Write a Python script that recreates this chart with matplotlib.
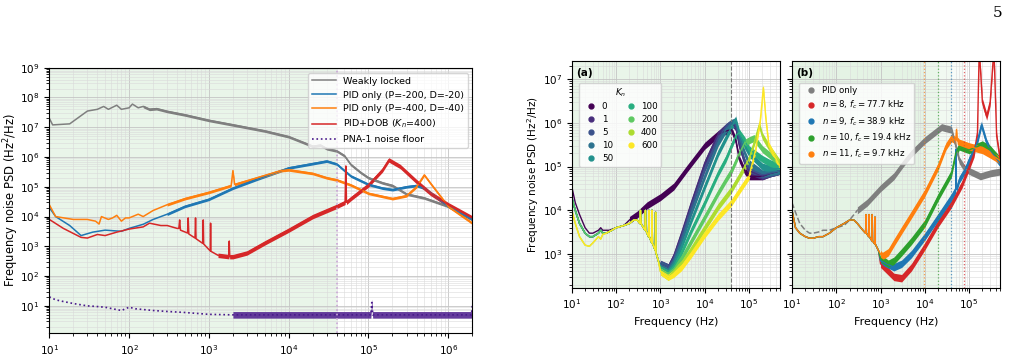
import matplotlib
matplotlib.use("Agg")
import matplotlib.pyplot as plt
import numpy as np
from matplotlib.lines import Line2D

# ---------------- left panel: PID vs PID+DOB ----------------
weak_f = [10, 11, 18, 30, 40, 48, 55, 70, 80, 100, 110, 130, 150, 180, 220, 300, 500,
          1e3, 2e3, 5e3, 1e4, 2e4, 2.5e4, 3e4, 4e4, 5e4, 6e4, 8e4, 1e5, 1.5e5, 2e5, 3e5,
          5e5, 1e6, 2e6]
weak_v = [2e7, 1.2e7, 1.3e7, 3.5e7, 4e7, 5e7, 4e7, 5.5e7, 4e7, 4.5e7, 6e7, 4.5e7, 5e7,
          4e7, 4.2e7, 3.4e7, 2.6e7, 1.7e7, 1.2e7, 7.5e6, 4.8e6, 2.3e6, 2.5e6, 1.9e6, 1.6e6,
          1.1e6, 5.6e5, 3e5, 2e5, 1.35e5, 1.1e5, 5.7e4, 4.2e4, 2.2e4, 8e3]

pid1_f = [10, 12, 18, 25, 35, 50, 80, 100, 150, 200, 300, 500, 1e3, 2e3, 4e3, 1e4, 2e4,
          3e4, 4e4, 6e4, 1e5, 1.5e5, 2e5, 3e5, 4e5, 5e5, 1e6, 2e6]
pid1_v = [2e4, 1e4, 5e3, 2.3e3, 3e3, 3.5e3, 3.2e3, 4e3, 5.5e3, 8e3, 1.2e4, 2.2e4, 3.8e4,
          9e4, 1.8e5, 4.3e5, 6e5, 7.3e5, 5.8e5, 2.3e5, 1.2e5, 9e4, 8e4, 1e5, 1.1e5, 9e4,
          2.2e4, 8e3]

pid2_f = [10, 12, 20, 30, 38, 42, 45, 55, 62, 70, 80, 90, 100, 130, 150, 200, 300, 500,
          1e3, 1.9e3, 2e3, 2.1e3, 4e3, 8e3, 1e4, 2e4, 3e4, 4e4, 6e4, 1e5, 2e5, 3e5, 4e5,
          5e5, 6e5, 1e6, 2e6]
pid2_v = [2.5e4, 1e4, 8e3, 8e3, 7e3, 5.6e3, 1e4, 8e3, 9e3, 1.1e4, 7e3, 9e3, 9e3, 1.2e4,
          1e4, 1.6e4, 2.5e4, 4e4, 6.5e4, 1.1e5, 3.5e5, 1.2e5, 2e5, 3.5e5, 3.7e5, 2.8e5,
          2e5, 1.7e5, 1.15e5, 6e4, 4e4, 5e4, 1e5, 2.5e5, 1.3e5, 2.2e4, 6e3]

dob_f = [10, 15, 25, 30, 40, 50, 70, 100, 150, 180, 250, 300, 400, 420, 430, 440, 540,
         550, 560, 670, 680, 690, 840, 850, 860, 1040, 1050, 1060, 1300, 1780, 1800, 1820,
         2000, 3000, 5000, 1e4, 2e4, 4e4, 5.1e4, 5.2e4, 5.3e4, 6e4, 1e5, 1.5e5, 1.8e5,
         2.5e5, 4e5, 6e5, 1e6, 2e6]
dob_v = [8e3, 4e3, 2e3, 1.9e3, 2.5e3, 2.3e3, 3e3, 3.8e3, 4.5e3, 6e3, 5e3, 5e3, 4e3, 4e3,
         7.7e3, 3.5e3, 2.8e3, 9e3, 2.6e3, 1.9e3, 9e3, 1.8e3, 1.25e3, 7.7e3, 1.2e3, 7e2,
         6e3, 6.8e2, 5e2, 4.5e2, 1.5e3, 4.5e2, 4.5e2, 6e2, 1.3e3, 3.5e3, 1e4, 2.2e4, 3e4,
         5e5, 3e4, 4e4, 1.15e5, 3.7e5, 8e5, 4.8e5, 1.5e5, 6e4, 2.5e4, 9e3]

pna_f = [10, 12, 15, 20, 30, 40, 50, 70, 80, 100, 120, 200, 300, 500, 1e3, 2e3, 5e3, 1e4,
         1e5, 1.07e5, 1.1e5, 1.13e5, 1e6, 1.95e6, 2e6]
pna_v = [20, 16, 14, 12, 10, 9.5, 9, 7.5, 7, 9, 8, 7, 6.5, 6, 5.2, 5, 5, 5, 5, 5, 13, 5,
         5, 5, 10]

# ---------------- panel (a): K_n sweep ----------------
kn_labels = ["0", "1", "5", "10", "50", "100", "200", "400", "600"]

k0_f = [10, 12, 15, 20, 25, 30, 40, 45, 50, 70, 100, 150, 200, 300, 500, 1e3, 2e3, 4e3,
        1e4, 2e4, 3e4, 4e4, 5e4, 6e4, 8e4, 1e5, 2e5, 3e5, 5e5]
k0_v = [3.5e4, 1.5e4, 8e3, 4e3, 3e3, 3e3, 3.5e3, 4e3, 3.5e3, 3.5e3, 4e3, 4.5e3, 6e3, 8e3,
        1.3e4, 2e4, 3.5e4, 9e4, 3e5, 5.5e5, 6.5e5, 7e5, 4e5, 1.5e5, 8e4, 6e4, 6e4, 7e4, 8e4]

# common low-frequency part of the DOB curves (K_n = 1 ... 200)
lowk_f = [10, 12, 15, 20, 25, 30, 40, 45, 50, 60, 80, 100, 150, 200, 250, 300, 345, 355,
          365, 450, 460, 470, 540, 550, 560, 640, 650, 660, 770, 780, 790, 900]
lowk_v = [2e4, 1e4, 5e3, 3e3, 2.5e3, 2.5e3, 3e3, 3.5e3, 3e3, 3e3, 3.5e3, 4e3, 4.5e3, 5e3,
          6e3, 6e3, 5e3, 1e4, 5e3, 3.5e3, 1e4, 3.5e3, 2.5e3, 1e4, 2.5e3, 1.8e3, 1e4, 1.8e3,
          1.2e3, 9e3, 1.1e3, 7e2]
# K_n = 400, 600 sit lower below 50 Hz
lowk_hi_v = [1e4, 5e3, 2.5e3, 1.6e3, 1.5e3, 1.8e3, 2.5e3, 2.2e3, 2.8e3, 3e3, 3.5e3, 4e3,
             4.5e3, 5e3, 6e3, 6e3, 5e3, 1e4, 5e3, 3.5e3, 1e4, 3.5e3, 2.5e3, 1e4, 2.5e3,
             1.8e3, 1e4, 1.8e3, 1.2e3, 9e3, 1.1e3, 7e2]

hk_f = [1e3, 1.5e3, 2e3, 3e3, 5e3, 1e4, 2e4, 3e4, 4e4, 5e4, 6e4, 8e4, 1e5, 2e5, 3e5, 5e5]
k1_v = [6e2, 5e2, 9e2, 3e3, 1.5e4, 1.2e5, 5.5e5, 8e5, 1e6, 8e5, 3e5, 1.2e5, 8e4, 6e4, 7e4, 8e4]
k5_v = [6e2, 5e2, 8e2, 2.5e3, 1.2e4, 9e4, 4.5e5, 8e5, 1e6, 9e5, 4e5, 1.3e5, 9e4, 6.5e4, 7e4, 8e4]
k10_v = [5.5e2, 4.5e2, 7e2, 2e3, 9e3, 6e4, 3.5e5, 7e5, 1e6, 1.1e6, 5e5, 2e5, 1.2e5, 7e4, 7.5e4, 8e4]
k50_v = [5e2, 4e2, 6e2, 1.5e3, 6e3, 3.5e4, 2e5, 4.5e5, 8e5, 1.2e6, 6e5, 3e5, 2e5, 1e5, 9e4, 9e4]
k100_v = [5e2, 4e2, 5e2, 1.1e3, 3.5e3, 1.5e4, 7e4, 1.5e5, 3e5, 5e5, 6e5, 4e5, 2.5e5, 1.5e5, 1.2e5, 1e5]
k200_f = [1e3, 1.5e3, 2e3, 3e3, 5e3, 1e4, 2e4, 3e4, 4e4, 6e4, 8e4, 1e5, 1.3e5, 2e5, 3e5, 5e5]
k200_v = [4.5e2, 3.5e2, 4.5e2, 8e2, 2e3, 7e3, 2.5e4, 5e4, 8e4, 2e5, 3.5e5, 4e5, 4.5e5, 2.5e5, 1.8e5, 1.2e5]
k400_f = [1e3, 1.5e3, 2e3, 3e3, 5e3, 1e4, 2e4, 4e4, 6e4, 1e5, 1.3e5, 1.7e5, 2e5, 3e5, 5e5]
k400_v = [4e2, 3e2, 4e2, 6e2, 1.3e3, 4e3, 1.2e4, 3e4, 6e4, 1.5e5, 3.5e5, 9e5, 5e5, 2.5e5, 1.2e5]
k600_f = [1e3, 1.5e3, 2e3, 3e3, 5e3, 1e4, 2e4, 4e4, 6e4, 1e5, 1.4e5, 1.8e5, 2.1e5, 2.4e5, 2.8e5, 5e5]
k600_v = [4e2, 3e2, 3.5e2, 5e2, 1e3, 2.8e3, 7e3, 1.5e4, 2.8e4, 6e4, 2.4e5, 1.2e6, 6.4e6, 1.2e6, 3e5, 1e5]

# ---------------- panel (b): filter order n ----------------
fc_khz = [77.7, 38.9, 19.4, 9.7]
n_orders = [8, 9, 10, 11]

pidb_dash_f = [10, 12, 15, 20, 25, 30, 40, 50, 70, 100, 150, 200, 300]
pidb_dash_v = [1.5e4, 9e3, 5e3, 3.5e3, 3e3, 3e3, 3.2e3, 3.5e3, 3.5e3, 4e3, 4.5e3, 6e3, 1e4]
pidb_f = [300, 500, 1e3, 2e3, 3.3e3, 5e3, 1e4, 1.5e4, 2.4e4, 3e4, 4e4, 5e4, 6e4, 8e4,
          1.1e5, 1.8e5, 3e5, 5e5]
pidb_v = [1e4, 1.5e4, 3.2e4, 6e4, 1.2e5, 2e5, 4e5, 5.5e5, 8e5, 7.5e5, 7e5, 3e5, 1.4e5,
          9e4, 7.6e4, 6e4, 7e4, 7.7e4]

lowb_f = [10, 12, 15, 20, 25, 30, 40, 50, 70, 100, 150, 200, 250, 300, 400, 460, 470, 480,
          540, 550, 560, 640, 650, 660, 740, 750, 760, 900]
lowb_v = [1e4, 4e3, 3e3, 2.5e3, 2.3e3, 2.3e3, 2.5e3, 2.5e3, 3e3, 4e3, 5e3, 6e3, 6e3, 5e3,
          3.5e3, 3e3, 8e3, 3e3, 2.5e3, 8e3, 2.5e3, 2e3, 8e3, 2e3, 1.7e3, 7e3, 1.7e3, 1.2e3]

n8_f = [1e3, 2e3, 3e3, 5e3, 1e4, 2e4, 4e4, 7e4, 1e5, 1.3e5, 1.55e5, 1.7e5, 2e5, 2.5e5,
        3e5, 3.65e5, 4.2e5, 5e5]
n8_v = [6e2, 3e2, 2.8e2, 5e2, 1.5e3, 5e3, 1.4e4, 4e4, 1e5, 2e5, 6e5, 5e7, 3e6, 1.4e6,
        3e6, 5e7, 5e5, 1.5e5]
n9_f = [1e3, 2e3, 3e3, 5e3, 1e4, 2e4, 4e4, 5e4, 5.1e4, 5.2e4, 6e4, 8e4, 1e5, 1.5e5,
        1.9e5, 2.5e5, 3e5, 5e5]
n9_v = [7e2, 5e2, 6e2, 1e3, 2.5e3, 7e3, 2e4, 3e4, 2.5e5, 3e4, 5e4, 8e4, 1.4e5, 3.4e5,
        9e5, 3.5e5, 2.4e5, 1.2e5]
n10_f = [1e3, 1.5e3, 2e3, 3e3, 5e3, 1e4, 2e4, 4e4, 5e4, 6e4, 8e4, 1e5, 2e5, 3e5, 5e5]
n10_v = [8e2, 6e2, 7e2, 1.1e3, 2e3, 5e3, 2e4, 7e4, 2e5, 2.9e5, 2.6e5, 2.4e5, 3.2e5, 2.5e5, 1.4e5]
n11_f = [1e3, 1.1e3, 1.5e3, 2e3, 3e3, 5e3, 1e4, 2e4, 3e4, 4e4, 5e4, 5.2e4, 5.4e4, 6e4,
         1e5, 2e5, 3e5, 5e5]
n11_v = [1e3, 9e2, 1.1e3, 1.8e3, 3.5e3, 8e3, 2.5e4, 1e5, 2.9e5, 4.5e5, 4e5, 7e5, 4e5,
         3.5e5, 2.9e5, 2.4e5, 1.9e5, 1.4e5]


def draw(ax, f, v, color, w=0.0, f_band=None, alpha=1.0, **kw):
    # thin trace plus a noise band (half width w in decades) above f_band
    f = np.asarray(f, float)
    v = np.asarray(v, float)
    ax.plot(f, v, color=color, **kw)
    if f_band is not None:
        m = f >= f_band
        ax.fill_between(f[m], v[m] / 10**w, v[m] * 10**w, color=color, lw=0, alpha=alpha)


def style(ax):
    ax.set_xscale("log")
    ax.set_yscale("log")
    ax.grid(True, which="major", color="#c4c4c4", lw=0.6)
    ax.grid(True, which="minor", color="#dadada", lw=0.4)
    ax.set_axisbelow(True)


plt.rcParams["font.family"] = "DejaVu Sans"
fig = plt.figure(figsize=(10.15, 3.59), dpi=100)

# ---- left ----
ax0 = fig.add_axes([0.0486, 0.0716, 0.4167, 0.7398])
style(ax0)
ax0.axvspan(10, 4e4, color="tab:green", alpha=0.1, lw=0, zorder=0)
ax0.axvline(4e4, color="#c9a6d6", ls=":", lw=1.2)
draw(ax0, weak_f, weak_v, "tab:gray", 0.045, 150, lw=1.1, label="Weakly locked")
draw(ax0, pid1_f, pid1_v, "tab:blue", 0.045, 300, lw=1.1, label="PID only (P=-200, D=-20)")
draw(ax0, pid2_f, pid2_v, "tab:orange", 0.045, 250, lw=1.1, label="PID only (P=-400, D=-40)")
draw(ax0, dob_f, dob_v, "tab:red", 0.075, 1100, lw=1.1, label="PID+DOB ($K_n$=400)")
draw(ax0, pna_f, pna_v, "#4a1a8c", 0.11, 2000, alpha=0.85, lw=1.2, ls=":",
     label="PNA-1 noise floor")
ax0.set_xlim(10, 2e6)
ax0.set_ylim(1.2, 1e9)
ax0.set_yticks([10.0**k for k in range(1, 10)])
ax0.tick_params(labelsize=7.5)
ax0.set_xlabel("Frequency (Hz)", fontsize=8.5)
ax0.set_ylabel("Frequency noise PSD (Hz$^2$/Hz)", fontsize=8.3)
ax0.yaxis.set_label_coords(-0.068, 0.5)
ax0.legend(loc="upper right", bbox_to_anchor=(0.99, 0.98), borderaxespad=0,
           fontsize=6.8, handlelength=2.5, framealpha=0.8)

# ---- (a) ----
axa = fig.add_axes([0.5633, 0.1986, 0.2052, 0.6315])
style(axa)
axa.axvspan(10, 4e4, color="tab:green", alpha=0.1, lw=0, zorder=0)
axa.axvline(4e4, color="#777777", ls="--", lw=0.8)
cols = plt.cm.viridis(np.linspace(0, 1, len(kn_labels)))
draw(axa, k0_f, k0_v, cols[0], 0.08, 200, lw=1.0)
high_f = [hk_f, hk_f, hk_f, hk_f, hk_f, k200_f, k400_f, k600_f]
high_v = [k1_v, k5_v, k10_v, k50_v, k100_v, k200_v, k400_v, k600_v]
low_v = [lowk_v] * 6 + [lowk_hi_v] * 2
for c, lv, hf, hv in zip(cols[1:], low_v, high_f, high_v):
    draw(axa, lowk_f + hf, lv + hv, c, 0.08, 1000, lw=1.0)
axa.set_xlim(10, 5e5)
axa.set_ylim(1.7e2, 2.6e7)
axa.tick_params(labelsize=7.5)
axa.set_xlabel("Frequency (Hz)", fontsize=8)
axa.set_ylabel("Frequency noise PSD (Hz$^2$/Hz)", fontsize=7.5)
axa.yaxis.set_label_coords(-0.15, 0.5)
axa.text(0.02, 0.97, "(a)", transform=axa.transAxes, fontsize=7.5, fontweight="bold",
         va="top")
h_a = [Line2D([], [], ls="", marker="o", ms=3.5, color=c, label=lab)
       for c, lab in zip(cols, kn_labels)]
axa.legend(handles=h_a, ncol=2, title="$K_n$", title_fontsize=6.3, fontsize=6.3,
           loc="upper left", bbox_to_anchor=(0.035, 0.905), borderaxespad=0,
           handletextpad=0.2, columnspacing=1.0, labelspacing=0.45, framealpha=0.8)

# ---- (b) ----
axb = fig.add_axes([0.7803, 0.1986, 0.2049, 0.6315], sharey=axa)
style(axb)
bcols = ["tab:red", "tab:blue", "tab:green", "tab:orange"]
for fc, c in zip(fc_khz, bcols):
    axb.axvspan(10, fc * 1e3, color="tab:green", alpha=0.03, lw=0, zorder=0)
    axb.axvline(fc * 1e3, color=c, ls=":", lw=0.9, alpha=0.7)
axb.plot(pidb_dash_f, pidb_dash_v, color="tab:gray", ls="--", lw=1.1)
draw(axb, pidb_f, pidb_v, "tab:gray", 0.08, 300, lw=1.0)
high_b = [(n8_f, n8_v), (n9_f, n9_v), (n10_f, n10_v), (n11_f, n11_v)]
for c, (hf, hv) in zip(bcols, high_b):
    draw(axb, lowb_f + hf, lowb_v + hv, c, 0.085, 1000, lw=1.0)
axb.set_xlim(10, 5e5)
axb.tick_params(labelsize=7.5)
plt.setp(axb.get_yticklabels(), visible=False)
axb.set_xlabel("Frequency (Hz)", fontsize=8)
axb.text(0.02, 0.97, "(b)", transform=axb.transAxes, fontsize=7.5, fontweight="bold",
         va="top")
h_b = [Line2D([], [], ls="", marker="o", ms=3.5, color="tab:gray", label="PID only")]
for n, fc, c in zip(n_orders, fc_khz, bcols):
    h_b.append(Line2D([], [], ls="", marker="o", ms=3.5, color=c,
                      label=r"$n=%d$, $f_c=%.1f$ kHz" % (n, fc)))
axb.legend(handles=h_b, fontsize=6.2, loc="upper left", bbox_to_anchor=(0.035, 0.905),
           borderaxespad=0, handletextpad=0.2, labelspacing=0.45, framealpha=0.8)

fig.text(0.988, 0.965, "5", family="DejaVu Serif", fontsize=11, ha="right", va="center")

fig.savefig("out.png", dpi=100)
